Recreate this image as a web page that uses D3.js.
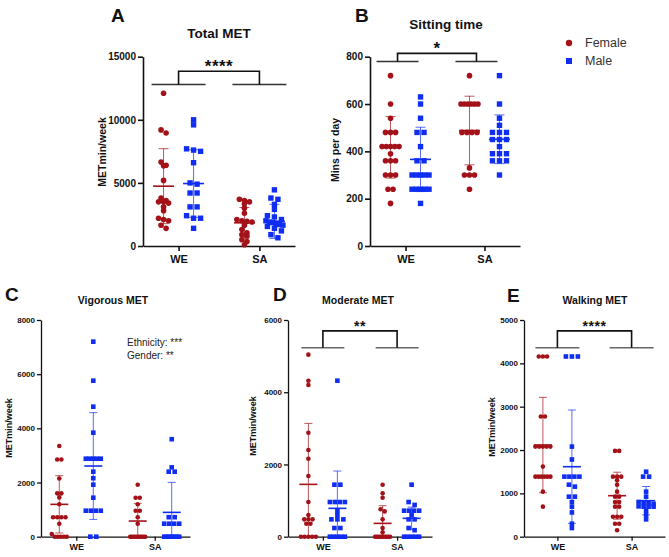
<!DOCTYPE html>
<meta charset="utf-8">
<style>
body {
  margin: 0;
  background: #fff;
  font-family: Arial, "Liberation Sans", Helvetica, sans-serif;
}
svg { display: block; }
.axis path, .axis line { stroke: #111; }
.axis text { font-weight: bold; fill: #111; font-family: Arial, "Liberation Sans", sans-serif; }
</style>
<body>
<script src="https://d3js.org/d3.v7.min.js"></script>
<script>

const categories = ["WE", "SA"];
const genders = ["Female", "Male"];
const colors = ["#a31218", "#0f2ef2"];

// A - Total MET
const totalWE_F = [12100, 9200, 8950, 6650, 6400, 6350, 5200, 3800, 3600, 3500, 3500, 3400, 3100, 2800, 2200, 2100, 2000, 1650, 1400];
const totalWE_M = [10000, 9600, 7700, 7600, 7500, 6600, 5000, 4900, 4200, 4200, 3100, 3100, 2400, 2200, 2200, 1400];
const totalSA_F = [3700, 3600, 3500, 3350, 3000, 2600, 2100, 2000, 1950, 1900, 1650, 1300, 1050, 900, 800, 500, 350, 100];
const totalSA_M = [4450, 3800, 3700, 3300, 2900, 2400, 2300, 2100, 2000, 1900, 1850, 1800, 1700, 1650, 1550, 1400, 1200, 900, 650];
const totalMean = [4740, 4950, 1840, 1950];
const totalSD = [2970, 2680, 1210, 1350];
const totalTicks = [0, 5000, 10000, 15000];

// B - Sitting time
const sitWE_F = [720, 600, 540, 480, 480, 480, 420, 420, 420, 420, 420, 390, 360, 360, 360, 300, 300, 300, 240, 240, 180];
const sitWE_M = [630, 600, 540, 480, 480, 420, 360, 360, 300, 300, 300, 300, 300, 240, 240, 240, 240, 240, 180];
const sitSA_F = [720, 600, 600, 600, 600, 600, 600, 480, 480, 480, 480, 330, 300, 300, 300, 240];
const sitSA_M = [720, 600, 540, 510, 480, 480, 480, 450, 450, 450, 420, 390, 390, 390, 360, 360, 360, 300];
const sitMean = [417, 366, 488, 451];
const sitSD = [130, 136, 145, 103];
const sitTicks = [0, 200, 400, 600, 800];

// C - Vigorous MET
const vigWE_F = [3350, 2850, 2850, 2150, 1600, 1600, 1450, 1200, 720, 720, 720, 720, 480, 100, 0, 0, 0, 0, 0];
const vigWE_M = [7200, 5760, 4800, 3840, 2880, 2880, 2880, 2880, 2880, 2400, 2160, 1920, 1440, 960, 960, 960, 960, 0, 0];
const vigSA_F = [1920, 1440, 1440, 1200, 960, 960, 720, 480, 0, 0, 0, 0, 0, 0, 0, 0, 0, 0];
const vigSA_M = [3600, 2560, 2400, 2400, 720, 720, 480, 480, 480, 480, 0, 0, 0, 0, 0, 0, 0];
const vigMean = [1194, 2609, 578, 898];
const vigSD = [1058, 1970, 652, 1108];
const vigTicks = [0, 2000, 4000, 6000, 8000];

// D - Moderate MET
const modWE_F = [5040, 4320, 4200, 2880, 2400, 2160, 1680, 960, 600, 480, 480, 480, 360, 360, 0, 0, 0, 0, 0];
const modWE_M = [4320, 1440, 1440, 960, 960, 960, 960, 720, 600, 480, 480, 480, 240, 240, 0, 0, 0, 0, 0];
const modSA_F = [1440, 1200, 1080, 760, 700, 480, 240, 120, 0, 0, 0, 0, 0, 0, 0, 0, 0, 0];
const modSA_M = [1440, 960, 880, 720, 720, 720, 720, 600, 480, 480, 240, 180, 0, 0, 0, 0, 0];
const modMean = [1449, 785, 369, 508];
const modSD = [1689, 1033, 489, 310];
const modTicks = [0, 2000, 4000, 6000];

// E - Walking MET
const walkWE_F = [4158, 4158, 4158, 2772, 2772, 2079, 2079, 2079, 2079, 2079, 1617, 1386, 1386, 1386, 1386, 1386, 1386, 1040, 693];
const walkWE_M = [4158, 4158, 4158, 2079, 1782, 1386, 1386, 1386, 1386, 1200, 1155, 924, 924, 800, 693, 560, 300, 200];
const walkSA_F = [1980, 1980, 1386, 1386, 1386, 1300, 1200, 1040, 924, 924, 800, 800, 693, 693, 462, 462, 462, 300, 300, 150];
const walkSA_M = [1500, 1386, 1386, 1040, 924, 800, 780, 780, 760, 700, 693, 693, 693, 600, 500, 400];
const walkMean = [2115, 1615, 946, 831];
const walkSD = [1100, 1308, 542, 327];
const walkTicks = [0, 1000, 2000, 3000, 4000, 5000];

let panels = [
  {letter: "A", title: "Total MET", ylabel: "METmin/week",
   groups: [totalWE_F, totalWE_M, totalSA_F, totalSA_M], mean: totalMean, sd: totalSD, ticks: totalTicks,
   x0: 143, x1: 295, y0: 246, y1: 56.7, pad: 0.44, goff: 15, big: true,
   sig: {line: 12800, top: 13850, stars: "****", hw: 27, shift: 0, size: 17, color: "#333"},
   letterX: 111, letterY: 22, titleX: 219, titleY: 38, ylabX: 102, ylabY: 152},
  {letter: "B", title: "Sitting time", ylabel: "Mins per day",
   groups: [sitWE_F, sitWE_M, sitSA_F, sitSA_M], mean: sitMean, sd: sitSD, ticks: sitTicks,
   x0: 370, x1: 520, y0: 246, y1: 56.7, pad: 0.45, goff: 15, big: true,
   sig: {line: 780, top: 814, stars: "*", hw: 21, shift: -8, size: 17, color: "#333"},
   letterX: 355, letterY: 22, titleX: 446, titleY: 29, ylabX: 335, ylabY: 150},
  {letter: "C", title: "Vigorous MET", ylabel: "METmin/week",
   groups: [vigWE_F, vigWE_M, vigSA_F, vigSA_M], mean: vigMean, sd: vigSD, ticks: vigTicks,
   x0: 41, x1: 190, y0: 536.7, y1: 320, pad: 0.45, goff: 17, big: false,
   sig: null,
   letterX: 5, letterY: 301, titleX: 113, titleY: 304, ylabX: 9, ylabY: 428},
  {letter: "D", title: "Moderate MET", ylabel: "METmin/week",
   groups: [modWE_F, modWE_M, modSA_F, modSA_M], mean: modMean, sd: modSD, ticks: modTicks,
   x0: 288, x1: 432, y0: 536.7, y1: 320, pad: 0.47, goff: 14.5, big: false,
   sig: {line: 5230, top: 5700, stars: "**", hw: 21.5, shift: 0, size: 14, color: "#666"},
   letterX: 273, letterY: 301, titleX: 358, titleY: 304, ylabX: 253, ylabY: 426},
  {letter: "E", title: "Walking MET", ylabel: "METmin/week",
   groups: [walkWE_F, walkWE_M, walkSA_F, walkSA_M], mean: walkMean, sd: walkSD, ticks: walkTicks,
   x0: 524, x1: 665, y0: 536.7, y1: 320, pad: 0.45, goff: 14.5, big: false,
   sig: {line: 4360, top: 4750, stars: "****", hw: 22, shift: 0, size: 14, color: "#666"},
   letterX: 507, letterY: 302, titleX: 595, titleY: 304, ylabX: 492, ylabY: 427}
];

let svg = d3.select("body").append("svg")
  .attr("width", 669)
  .attr("height", 557);

// spread points that share (nearly) the same value into centred rows
function layoutRows(values, y, spacing, maxSpread) {
  let pts = values.map(function(v) { return {v: v, y: y(v)}; })
    .sort(function(a, b) { return a.y - b.y; });
  let rows = [];
  pts.forEach(function(p) {
    let last = rows[rows.length - 1];
    if (last && Math.abs(p.y - last[0].y) < spacing * 0.7) last.push(p);
    else rows.push([p]);
  });
  rows.forEach(function(row) {
    let s = row.length > 1 ? Math.min(spacing, maxSpread / (row.length - 1)) : 0;
    row.forEach(function(p, i) { p.dx = (i - (row.length - 1) / 2) * s; });
  });
  return pts;
}

panels.forEach(function(p) {
  let g = svg.append("g");
  let big = p.big;
  let r = big ? 2.8 : 2.3;
  let sq = big ? 5.4 : 4.6;

  let y = d3.scaleLinear().domain([0, d3.max(p.ticks)]).range([p.y0, p.y1]);
  let x = d3.scalePoint().domain(categories).range([p.x0, p.x1]).padding(p.pad);
  let xg = d3.scalePoint().domain(genders).range([-p.goff, p.goff]);

  // axes
  let yAxis = g.append("g")
    .attr("class", "axis")
    .attr("transform", "translate(" + p.x0 + ",0)")
    .call(d3.axisLeft(y).tickValues(p.ticks).tickSize(big ? 5 : 4).tickSizeOuter(0).tickPadding(2).tickFormat(d3.format("d")));
  yAxis.selectAll("text").style("font-size", big ? "10px" : "8px");

  let xAxis = g.append("g")
    .attr("class", "axis")
    .attr("transform", "translate(0," + p.y0 + ")")
    .call(d3.axisBottom(x).tickSize(big ? 5 : 4).tickSizeOuter(0).tickPadding(big ? 4 : 3));
  xAxis.selectAll("text").style("font-size", big ? "11px" : "9px");
  g.selectAll(".axis path, .axis line").style("stroke-width", big ? 1.6 : 1.3);

  // labels
  g.append("text")
    .attr("x", p.letterX).attr("y", p.letterY)
    .style("font-size", "19px").style("font-weight", "bold").attr("fill", "#111")
    .text(p.letter);
  g.append("text")
    .attr("x", p.titleX).attr("y", p.titleY)
    .attr("text-anchor", "middle")
    .style("font-size", big ? "13.5px" : "10.5px").style("font-weight", "bold").attr("fill", "#111")
    .text(p.title);
  g.append("text")
    .attr("transform", "translate(" + p.ylabX + "," + p.ylabY + ") rotate(-90)")
    .attr("text-anchor", "middle")
    .attr("dy", "0.35em")
    .style("font-size", big ? "10.5px" : "9px").style("font-weight", "bold").attr("fill", "#111")
    .text(p.ylabel);

  // points
  p.groups.forEach(function(vals, i) {
    let cat = categories[Math.floor(i / 2)];
    let gi = i % 2;
    let cx = x(cat) + xg(genders[gi]);
    let spacing = gi === 0 ? 2 * r * 0.9 : sq * 1.3;
    let pts = layoutRows(vals, y, spacing, big ? 17 : 15);
    if (gi === 0) {
      g.selectAll(null).data(pts).enter().append("circle")
        .attr("cx", function(d) { return cx + d.dx; })
        .attr("cy", function(d) { return d.y; })
        .attr("r", r)
        .attr("fill", colors[0]);
    } else {
      g.selectAll(null).data(pts).enter().append("rect")
        .attr("x", function(d) { return cx + d.dx - sq / 2; })
        .attr("y", function(d) { return d.y - sq / 2; })
        .attr("width", sq).attr("height", sq)
        .attr("fill", colors[1]);
    }

    // mean and SD
    let m = p.mean[i], s = p.sd[i];
    let top = y(m + s), bot = y(Math.max(0, m - s));
    let capW = big ? 5 : 4;
    let meanW = big ? 10.5 : 9;
    let eb = g.append("g").attr("stroke", colors[gi]);
    eb.append("line").attr("x1", cx).attr("x2", cx).attr("y1", top).attr("y2", bot)
      .attr("stroke-width", 1).attr("stroke-opacity", 0.7);
    eb.append("line").attr("x1", cx - capW).attr("x2", cx + capW).attr("y1", top).attr("y2", top)
      .attr("stroke-width", 1).attr("stroke-opacity", 0.7);
    if (m - s > 0) {
      eb.append("line").attr("x1", cx - capW).attr("x2", cx + capW).attr("y1", bot).attr("y2", bot)
        .attr("stroke-width", 1).attr("stroke-opacity", 0.7);
    }
    eb.append("line").attr("x1", cx - meanW).attr("x2", cx + meanW).attr("y1", y(m)).attr("y2", y(m))
      .attr("stroke-width", 1.6);
  });

  // significance bracket
  if (p.sig) {
    let sg = g.append("g").attr("fill", "none");
    let ly = y(p.sig.line), ty = y(p.sig.top);
    let cxs = categories.map(function(c) { return x(c) + p.sig.shift; });
    cxs.forEach(function(c) {
      sg.append("line").attr("x1", c - p.sig.hw).attr("x2", c + p.sig.hw)
        .attr("y1", ly).attr("y2", ly)
        .attr("stroke", p.sig.color).attr("stroke-width", 1.6);
    });
    sg.append("path")
      .attr("d", "M" + cxs[0] + "," + ly + "V" + ty + "H" + cxs[1] + "V" + ly)
      .attr("stroke", "#111").attr("stroke-width", 1.6);
    g.append("text")
      .attr("x", (cxs[0] + cxs[1]) / 2).attr("y", ty + 0.5)
      .attr("text-anchor", "middle")
      .style("font-size", p.sig.size + "px").style("font-weight", "bold")
      .style("letter-spacing", "0.5px")
      .attr("fill", "#111")
      .text(p.sig.stars);
  }
});

// two-way ANOVA note on panel C
let note = svg.append("g").style("font-size", "10px").attr("fill", "#222");
note.append("text").attr("x", 127).attr("y", 346).text("Ethnicity: ***");
note.append("text").attr("x", 127).attr("y", 359).text("Gender: **");

// legend
let legend = svg.append("g");
genders.forEach(function(name, i) {
  let ly = 43 + i * 18;
  if (i === 0) {
    legend.append("circle").attr("cx", 569).attr("cy", ly).attr("r", 3.2).attr("fill", colors[0]);
  } else {
    legend.append("rect").attr("x", 566).attr("y", ly - 3).attr("width", 6).attr("height", 6).attr("fill", colors[1]);
  }
  legend.append("text").attr("x", 585).attr("y", ly).attr("dy", "0.35em")
    .style("font-size", "12.5px").attr("fill", "#333").text(name);
});

</script>
</body>
